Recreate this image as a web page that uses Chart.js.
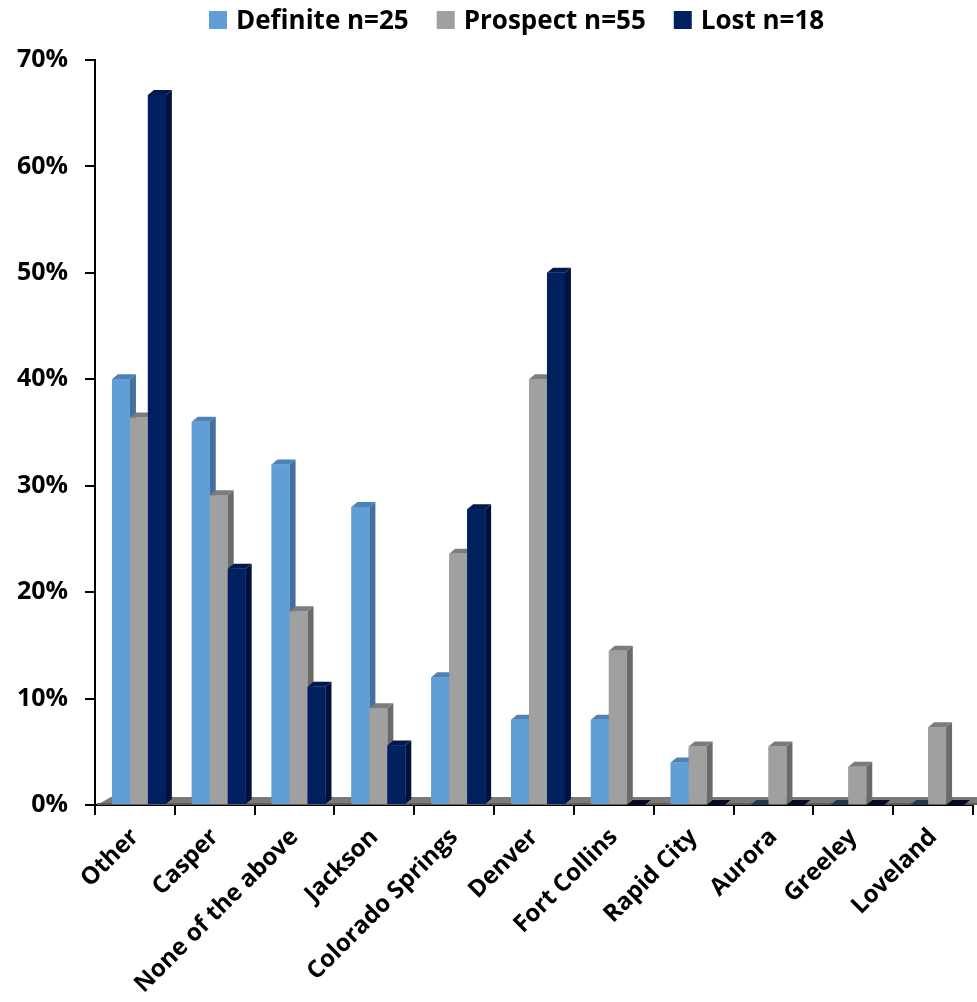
<!DOCTYPE html>
<html>
<head>
<meta charset="utf-8">
<script src="https://cdn.jsdelivr.net/npm/chart.js@4"></script>
<style>
  html, body { margin: 0; padding: 0; background: #fff; }
  canvas { display: block; }
</style>
</head>
<body>
<canvas id="cities" width="977" height="1002"></canvas>
<script>
const categories = ['Other', 'Casper', 'None of the above', 'Jackson', 'Colorado Springs',
  'Denver', 'Fort Collins', 'Rapid City', 'Aurora', 'Greeley', 'Loveland']
const seriesNames = ['Definite n=25', 'Prospect n=55', 'Lost n=18']
const definite = [40, 36, 32, 28, 12, 8, 8, 4, 0, 0, 0]
const prospect = [36.4, 29.1, 18.2, 9.1, 23.6, 40.0, 14.5, 5.5, 5.5, 3.6, 7.3]
const lost = [66.7, 22.2, 11.1, 5.6, 27.8, 50.0, 0, 0, 0, 0, 0]
const yTicks = [0, 10, 20, 30, 40, 50, 60, 70]

// front / right side / top / flat (zero) colours per series
const shades = [
  { front: '#629ed6', side: '#41719c', top: '#4d82b5', flat: '#1e3950' },
  { front: '#a0a0a0', side: '#6a6a6a', top: '#7c7c7c', flat: '#4a4a4a' },
  { front: '#002060', side: '#00123a', top: '#001a4e', flat: '#050c22' }
]
const depthX = 6
const depthY = 5
const shiftX = 4

Chart.defaults.font.family = "'Open Sans', sans-serif"
Chart.defaults.color = '#000'

const poly = (ctx, pts, color) => {
  ctx.beginPath()
  ctx.moveTo(pts[0][0], pts[0][1])
  pts.slice(1).forEach(p => ctx.lineTo(p[0], p[1]))
  ctx.closePath()
  ctx.fillStyle = color
  ctx.fill()
}

// fake 3d: a floor plus side and top faces on every bar
const depthBars = {
  id: 'depthBars',
  beforeDatasetsDraw(chart) {
    const { ctx, chartArea } = chart
    const base = chart.scales.y.getPixelForValue(0)
    ctx.save()
    poly(ctx, [
      [chartArea.left + 2, base],
      [chartArea.left + 16, base - 8],
      [chartArea.right + 16, base - 8],
      [chartArea.right + 2, base]
    ], '#7a7a7a')
    ctx.fillStyle = '#5c5c5c'
    ctx.fillRect(chartArea.left + 2, base - 2, chartArea.right - chartArea.left + 4, 2)
    // bars sit a little right of the category centre
    ctx.translate(shiftX, 0)
  },
  afterDatasetsDraw(chart) {
    const ctx = chart.ctx
    categories.forEach((c, i) => {
      chart.data.datasets.forEach((ds, d) => {
        const bar = chart.getDatasetMeta(d).data[i]
        const { x, y, base, width } = bar.getProps(['x', 'y', 'base', 'width'], true)
        const left = x - width / 2
        const right = x + width / 2
        const top = Math.min(y, base)
        const s = shades[d]
        if (base - top < 1) {
          poly(ctx, [[left, base], [left + depthX, base - depthY], [right + depthX, base - depthY], [right, base]], s.flat)
          return
        }
        poly(ctx, [[right, top], [right + depthX, top - depthY], [right + depthX, base - depthY], [right, base]], s.side)
        poly(ctx, [[left, top], [left + depthX, top - depthY], [right + depthX, top - depthY], [right, top]], s.top)
        ctx.fillStyle = s.front
        ctx.fillRect(left, top, width, base - top)
      })
    })
    ctx.restore()
  }
}

// legend row across the top
const topLegend = {
  id: 'topLegend',
  afterDraw(chart) {
    const ctx = chart.ctx
    ctx.save()
    ctx.font = "bold 26px 'Open Sans'"
    ctx.textBaseline = 'alphabetic'
    let x = 209
    chart.data.datasets.forEach((ds, d) => {
      ctx.fillStyle = shades[d].front
      ctx.fillRect(x, 11, 18, 18)
      ctx.fillStyle = '#000'
      ctx.fillText(ds.label, x + 27, 29)
      x += 27 + ctx.measureText(ds.label).width + 28
    })
    ctx.restore()
  }
}

new Chart(document.getElementById('cities'), {
  type: 'bar',
  data: {
    labels: categories,
    datasets: [
      { label: seriesNames[0], data: definite, backgroundColor: shades[0].front },
      { label: seriesNames[1], data: prospect, backgroundColor: shades[1].front },
      { label: seriesNames[2], data: lost, backgroundColor: shades[2].front }
    ]
  },
  options: {
    responsive: false,
    animation: false,
    layout: { padding: { top: 60, right: 4, left: 0, bottom: 0 } },
    datasets: { bar: { categoryPercentage: 0.675, barPercentage: 1, borderWidth: 0 } },
    plugins: { legend: { display: false }, tooltip: { enabled: false } },
    scales: {
      x: {
        afterFit: scale => { scale.height = 197 },
        grid: { offset: true, drawOnChartArea: false, tickLength: 10, color: '#000', lineWidth: 2 },
        border: { color: '#000', width: 2 },
        ticks: {
          autoSkip: false,
          minRotation: 45,
          maxRotation: 45,
          padding: 8,
          font: { size: 24, weight: 'bold' }
        }
      },
      y: {
        min: 0,
        max: 70,
        afterFit: scale => { scale.width = 95 },
        afterBuildTicks: scale => { scale.ticks = yTicks.map(v => ({ value: v })) },
        grid: { drawOnChartArea: false, tickLength: 10, color: '#000', lineWidth: 2 },
        border: { color: '#000', width: 2 },
        ticks: {
          padding: 17,
          font: { size: 25, weight: 'bold' },
          callback: v => v + '%'
        }
      }
    }
  },
  plugins: [depthBars, topLegend]
})
</script>
</body>
</html>
